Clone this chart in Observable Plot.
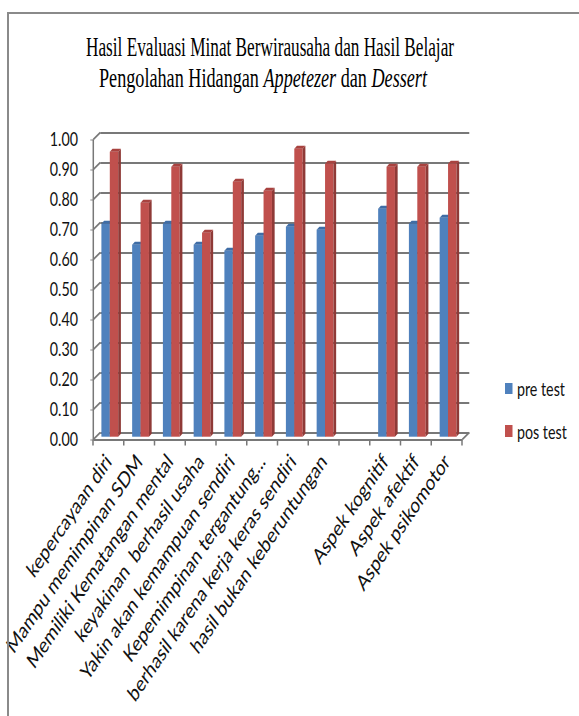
<!DOCTYPE html>
<html><head><meta charset="utf-8">
<script src="https://cdn.jsdelivr.net/npm/d3@7"></script>
<script src="https://cdn.jsdelivr.net/npm/@observablehq/plot@0.6"></script>
<style>
html,body{margin:0;padding:0;background:#fff;overflow:hidden}
#page{position:relative;width:579px;height:716px;overflow:hidden;background:#fff}
.bt{position:absolute;left:7px;top:12px;width:572px;height:2px;background:#8a8a8a;z-index:5}
.bl{position:absolute;left:7px;top:12px;width:2px;height:704px;background:#8a8a8a;z-index:5}
.tl{position:absolute;white-space:nowrap;font-family:"Liberation Serif","Times New Roman",serif;font-size:27px;line-height:27px;transform-origin:0 0;color:#000}
#chart{position:absolute;left:0;top:100px;width:772px;height:616px;transform:scaleX(0.75);transform-origin:0 0}
#chart svg{max-width:none !important}
.row{position:absolute;left:505px;display:flex;align-items:center;height:16px;transform:scaleX(0.75);transform-origin:0 50%;font-family:Lato,sans-serif;font-size:19px;white-space:nowrap;color:#111}
.sw{width:10.3px;height:11.7px;margin-right:5.7px;flex:none}
</style></head>
<body>
<div id="page">
  <div class="bt"></div><div class="bl"></div>
  <div id="t1" class="tl">Hasil Evaluasi Minat Berwirausaha dan Hasil Belajar</div>
  <div id="t2" class="tl">Pengolahan Hidangan <i>Appetezer</i> dan <i>Dessert</i></div>
  <div id="chart"></div>
  <div id="legend"></div>
</div>
<script>
// ---- data ----
const categories = ["kepercayaan diri", "Mampu memimpinan SDM", "Memiliki Kematangan mental", "keyakinan\u00a0 berhasil usaha", "Yakin akan kemampuan sendiri", "Kepemimpinan tergantung...", "berhasil karena kerja keras sendiri", "hasil bukan keberuntungan", "", "Aspek kognitif", "Aspek afektif", "Aspek psikomotor"];
const preTest = [0.71, 0.64, 0.71, 0.64, 0.62, 0.67, 0.70, 0.69, null, 0.76, 0.71, 0.73];
const posTest = [0.95, 0.78, 0.90, 0.68, 0.85, 0.82, 0.96, 0.91, null, 0.90, 0.90, 0.91];
const seriesNames = ["pre test", "pos test"];
const yTicks = [0, 0.1, 0.2, 0.3, 0.4, 0.5, 0.6, 0.7, 0.8, 0.9, 1.0];

// ---- styling ----
const colors = {front: ["#4F81BD", "#C0504D"], side: ["#385F8F", "#8F3A37"], top: ["#3F6DA6", "#A8423F"]};
const gridColor = "#787878";
const WALL_DX = 9.3, WALL_DY = -7;   // back wall offset
const BAR_DX = 4, BAR_DY = -2.8;     // bar mid-depth offset
const DEP_DX = 3.6, DEP_DY = -3;     // bar depth
const insets = [[7.2, 22.6], [18.4, 11.4]];

// ---- title ----
function fitLine(id, left, top, targetW) {
  const el = document.getElementById(id);
  el.style.left = left + "px"; el.style.top = top + "px";
  const w = el.getBoundingClientRect().width;
  el.style.transform = `scaleX(${targetW / w})`;
}
fitLine("t1", 86, 34.1, 368);
fitLine("t2", 99.3, 64.9, 328);

// ---- chart ----
const rows = (vals, s) => categories.map((c, i) => ({cat: c, series: s, value: vals[i]})).filter(d => d.value != null);
const preRows = rows(preTest, seriesNames[0]);
const posRows = rows(posTest, seriesNames[1]);

function wall(index, scales, values, dims) {
  const {y} = scales;
  const x0 = dims.marginLeft, x1 = dims.width - dims.marginRight;
  const g = d3.create("svg:g");
  const line = (a, b, c, d) => g.append("line").attr("x1", a).attr("y1", b).attr("x2", c).attr("y2", d)
    .attr("stroke", gridColor).attr("stroke-width", 2);
  yTicks.forEach(t => line(x0, y(t), x0 + WALL_DX, y(t) + WALL_DY));
  line(x0, y(0), x0, y(1));
  line(x1, y(0), x1 + WALL_DX, y(0) + WALL_DY);
  return g.node();
}
function xTicks(index, scales, values, dims) {
  const {x, y} = scales;
  const bw = x.bandwidth ? x.bandwidth() : (dims.width - dims.marginLeft - dims.marginRight) / categories.length;
  const g = d3.create("svg:g");
  const xs = categories.map(c => x(c)).concat([x(categories[categories.length - 1]) + bw]);
  xs.forEach(px => g.append("line").attr("x1", px).attr("x2", px).attr("y1", y(0)).attr("y2", y(0) + 6)
    .attr("stroke", gridColor).attr("stroke-width", 2));
  return g.node();
}
function barDeco(vals, k) {
  return (index, scales, values, dims) => {
    const {x, y} = scales;
    const bw = x.bandwidth ? x.bandwidth() : (dims.width - dims.marginLeft - dims.marginRight) / categories.length;
    const g = d3.create("svg:g");
    categories.forEach((c, i) => {
      const v = vals[i]; if (v == null) return;
      const xa = x(c) + insets[k][0] + BAR_DX, xb = x(c) + bw - insets[k][1] + BAR_DX;
      const yb = y(0) + BAR_DY, yt = y(v) + BAR_DY;
      g.append("path").attr("d", `M${xb},${yb}L${xb},${yt}L${xb + DEP_DX},${yt + DEP_DY}L${xb + DEP_DX},${yb + DEP_DY}Z`).attr("fill", colors.side[k]);
      g.append("path").attr("d", `M${xa},${yt}L${xb},${yt}L${xb + DEP_DX},${yt + DEP_DY}L${xa + DEP_DX},${yt + DEP_DY}Z`).attr("fill", colors.top[k]);
    });
    return g.node();
  };
}

const chart = Plot.plot({
  width: 772,
  height: 616,
  marginTop: 39.5,
  marginBottom: 276.5,
  marginLeft: 124.4,
  marginRight: 155.6,
  style: {background: "transparent", overflow: "visible", fontFamily: "Lato, sans-serif", color: "#111", maxWidth: "none"},
  x: {domain: categories, padding: 0, axis: null},
  y: {domain: [0, 1], axis: null},
  marks: [
    Plot.ruleY(yTicks, {stroke: gridColor, strokeWidth: 2, dx: WALL_DX, dy: WALL_DY}),
    wall,
    Plot.ruleY([0], {stroke: gridColor, strokeWidth: 2}),
    xTicks,
    Plot.barY(preRows, {x: "cat", y: "value", fill: colors.front[0], insetLeft: insets[0][0], insetRight: insets[0][1], dx: BAR_DX, dy: BAR_DY}),
    barDeco(preTest, 0),
    Plot.barY(posRows, {x: "cat", y: "value", fill: colors.front[1], insetLeft: insets[1][0], insetRight: insets[1][1], dx: BAR_DX, dy: BAR_DY}),
    barDeco(posTest, 1),
    Plot.axisY(yTicks, {label: null, tickFormat: d3.format(".2f"), tickSize: 4, tickPadding: 17, fontSize: 19, stroke: gridColor, fill: "#111"}),
    Plot.axisX({label: null, tickRotate: -48, tickSize: 0, tickPadding: 18, fontSize: 22, fill: "#111", tickFormat: d => d})
  ]
});
document.getElementById("chart").appendChild(chart);

// ---- legend ----
const legend = document.getElementById("legend");
[380.5, 423].forEach((top, k) => {
  const row = document.createElement("div");
  row.className = "row";
  row.style.top = top + "px";
  row.innerHTML = `<span class="sw" style="background:${colors.front[k]}"></span><span>${seriesNames[k]}</span>`;
  legend.appendChild(row);
});
</script>
</body></html>
